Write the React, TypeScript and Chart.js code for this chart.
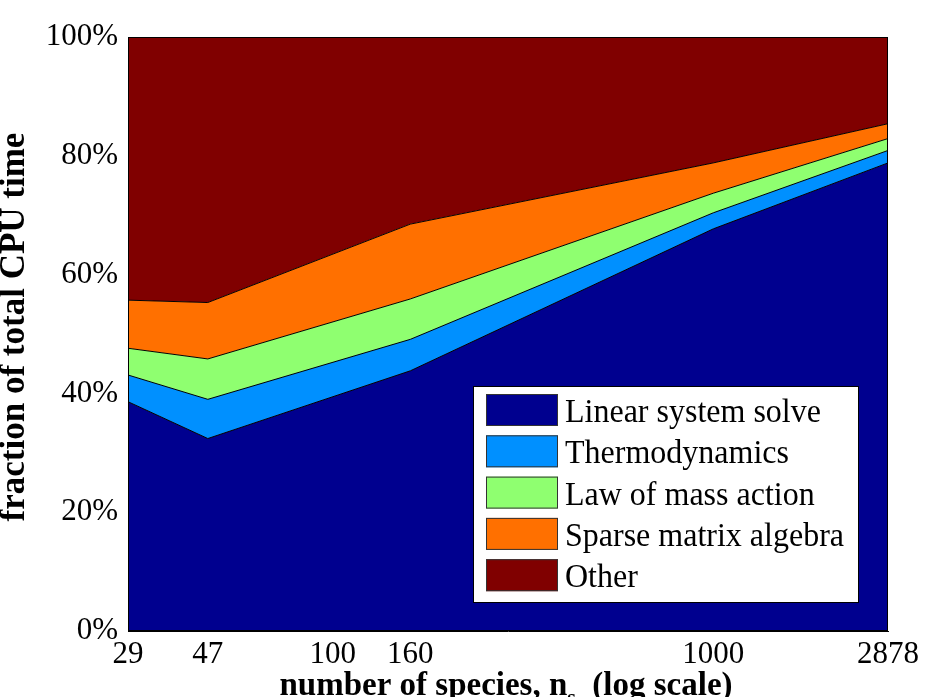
import React, { useEffect, useRef } from "react";
import { Chart, registerables } from "chart.js";

Chart.register(...registerables);

const species = [29, 47, 160, 1000, 2878];
const xTicks = [29, 47, 100, 160, 1000, 2878];
const yTicks = [0, 20, 40, 60, 80, 100];

const seriesNames = [
  "Linear system solve",
  "Thermodynamics",
  "Law of mass action",
  "Sparse matrix algebra",
  "Other",
];
const linearSolve = [38.6, 32.4, 43.8, 67.7, 78.8];
const thermodynamics = [4.5, 6.6, 5.3, 2.7, 2.1];
const massAction = [4.5, 6.8, 6.8, 3.3, 2.0];
const sparseAlgebra = [8.1, 9.5, 12.6, 5.1, 2.5];
const other = [44.3, 44.7, 31.5, 21.2, 14.6];

const seriesValues = [linearSolve, thermodynamics, massAction, sparseAlgebra, other];
const seriesColors = ["#00008F", "#0090FF", "#8FFF70", "#FF7000", "#800000"];

const FONT = "'Liberation Serif', 'Times New Roman', serif";

const overlayPlugin = {
  id: "overlay",
  afterDraw(chart: any) {
    const ctx = chart.ctx;
    const ca = chart.chartArea;
    ctx.save();
    // box around the plot
    ctx.strokeStyle = "#000";
    ctx.lineWidth = 1;
    ctx.strokeRect(ca.left + 0.5, ca.top + 0.5, ca.right - ca.left - 1, ca.bottom - ca.top - 1);

    // legend
    const lw = 386;
    const lh = 217;
    const lx = ca.right - 29 - lw;
    const ly = ca.bottom - 28 - lh;
    ctx.fillStyle = "#fff";
    ctx.fillRect(lx, ly, lw, lh);
    ctx.strokeStyle = "#000";
    ctx.strokeRect(lx + 0.5, ly + 0.5, lw - 1, lh - 1);
    ctx.textAlign = "left";
    ctx.textBaseline = "alphabetic";
    seriesNames.forEach((name, i) => {
      const sy = ly + 8 + i * 41.3;
      ctx.fillStyle = seriesColors[i];
      ctx.fillRect(lx + 13, sy, 72, 32);
      ctx.strokeStyle = "#333";
      ctx.strokeRect(lx + 13.5, sy + 0.5, 71, 31);
      ctx.fillStyle = "#000";
      ctx.save();
      ctx.translate(lx + 92, sy + 28);
      ctx.scale(1, 1.08);
      ctx.font = `32px ${FONT}`;
      ctx.fillText(name, 0, 0);
      ctx.restore();
    });

    // y title
    ctx.save();
    ctx.translate(15, 327);
    ctx.rotate(-Math.PI / 2);
    ctx.font = `bold 35px ${FONT}`;
    ctx.textAlign = "center";
    ctx.textBaseline = "middle";
    ctx.fillStyle = "#000";
    ctx.fillText("fraction of total CPU time", 0, 0);
    ctx.restore();

    // x title with subscript
    const p1 = "number of species, n";
    const p2 = "s";
    const p3 = "  (log scale)";
    const bigFont = `bold 33px ${FONT}`;
    const smallFont = `bold 22px ${FONT}`;
    ctx.font = bigFont;
    const w1 = ctx.measureText(p1).width;
    const w3 = ctx.measureText(p3).width;
    ctx.font = smallFont;
    const w2 = ctx.measureText(p2).width;
    const total = w1 + w2 + w3;
    let x = 506 - total / 2;
    const base = 695;
    ctx.fillStyle = "#000";
    ctx.textAlign = "left";
    ctx.textBaseline = "alphabetic";
    ctx.font = bigFont;
    ctx.fillText(p1, x, base);
    x += w1;
    ctx.font = smallFont;
    ctx.fillText(p2, x, base + 9);
    x += w2;
    ctx.font = bigFont;
    ctx.fillText(p3, x, base);
    ctx.restore();
  },
};

export default function App() {
  const ref = useRef<HTMLCanvasElement | null>(null);

  useEffect(() => {
    document.body.style.margin = "0";
    const canvas = ref.current;
    if (!canvas) return;
    const datasets = seriesNames.map((name, i) => ({
      label: name,
      data: species.map((s, j) => ({ x: s, y: seriesValues[i][j] })),
      backgroundColor: seriesColors[i],
      borderColor: "#000",
      borderWidth: 1,
      pointRadius: 0,
      tension: 0,
      fill: i === 0 ? "origin" : "-1",
    }));
    const chart = new Chart(canvas, {
      type: "line",
      data: { datasets } as any,
      plugins: [overlayPlugin],
      options: {
        animation: false,
        responsive: false,
        layout: { padding: { top: 37, right: 46, left: 0, bottom: 0 } },
        plugins: {
          legend: { display: false },
          tooltip: { enabled: false },
          filler: { propagate: false },
        },
        scales: {
          x: {
            type: "logarithmic",
            min: 29,
            max: 2878,
            grid: { display: false, drawTicks: false },
            border: { display: true, color: "#000", width: 1 },
            afterBuildTicks: (scale: any) => {
              scale.ticks = xTicks.map((v) => ({ value: v }));
            },
            afterFit: (scale: any) => {
              scale.height = 66;
            },
            ticks: {
              autoSkip: false,
              maxRotation: 0,
              minRotation: 0,
              padding: 5,
              color: "#000",
              font: { family: FONT, size: 31 },
              callback: (v: any) => String(v),
            },
          },
          y: {
            stacked: true,
            min: 0,
            max: 100,
            grid: { display: false, drawTicks: false },
            border: { display: true, color: "#000", width: 1 },
            afterBuildTicks: (scale: any) => {
              scale.ticks = yTicks.map((v) => ({ value: v }));
            },
            afterFit: (scale: any) => {
              scale.width = 128;
            },
            ticks: {
              padding: 10,
              color: "#000",
              font: { family: FONT, size: 31 },
              callback: (v: any) => v + "%",
            },
          },
        },
      } as any,
    });
    return () => chart.destroy();
  }, []);

  return (
    <canvas
      ref={ref}
      width={934}
      height={697}
      style={{ display: "block", width: 934, height: 697 }}
    />
  );
}
